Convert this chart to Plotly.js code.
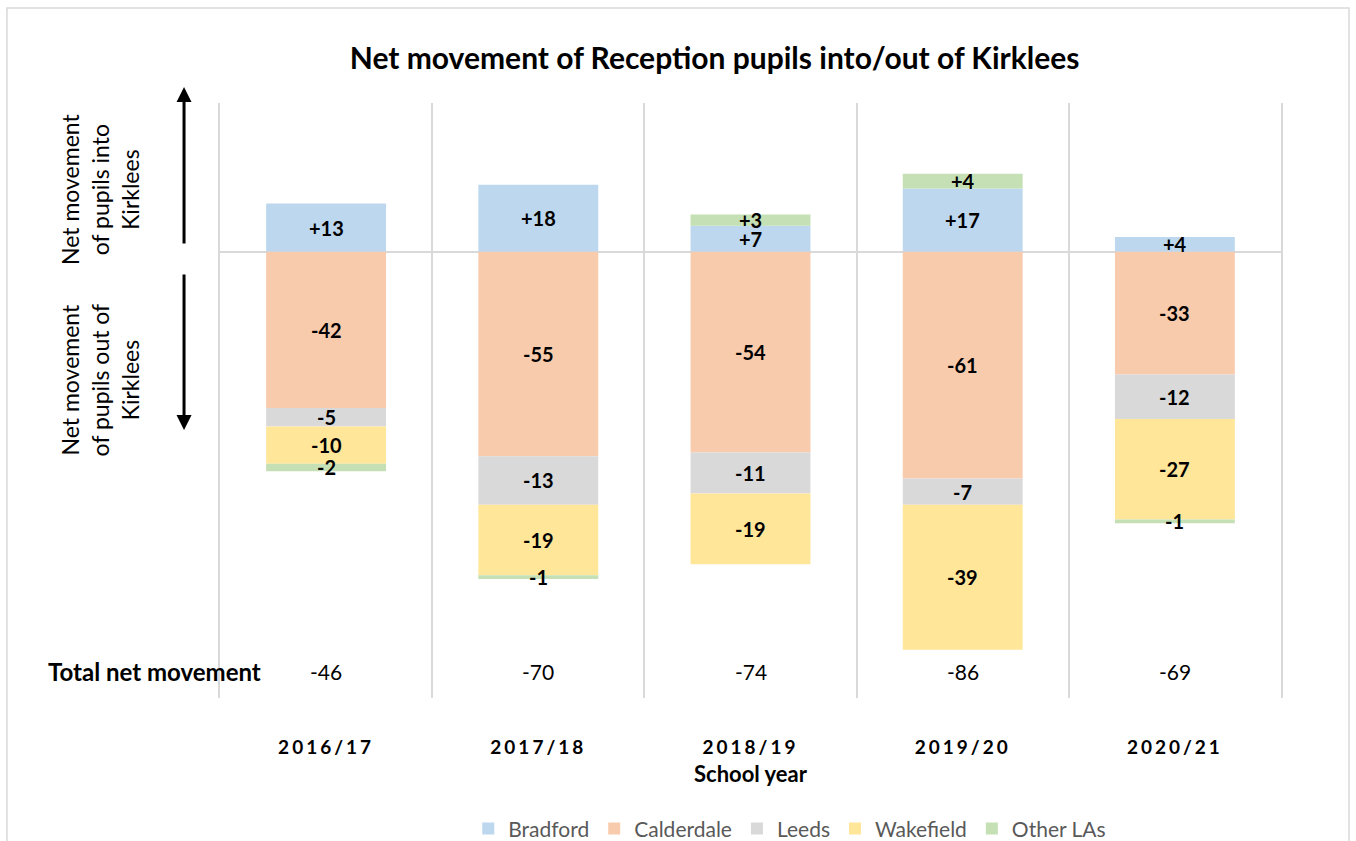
<!DOCTYPE html>
<html>
<head>
<meta charset="utf-8">
<script src="https://cdn.plot.ly/plotly-3.0.1.min.js"></script>
<style>
  body { margin: 0; background: #ffffff; }
  #chart { width: 1356px; height: 841px; }
  #chart .xtick text { letter-spacing: 3px; }
</style>
</head>
<body>
<div id="chart"></div>
<script>
const years = ['2016/17', '2017/18', '2018/19', '2019/20', '2020/21'];
const bradford = [13, 18, 7, 17, 4];
const calderdale = [-42, -55, -54, -61, -33];
const leeds = [-5, -13, -11, -7, -12];
const wakefield = [-10, -19, -19, -39, -27];
const otherLAs = [-2, -1, 3, 4, -1];

const seriesNames = ['Bradford', 'Calderdale', 'Leeds', 'Wakefield', 'Other LAs'];
const seriesColors = ['#bdd7ee', '#f8cbad', '#d9d9d9', '#ffe699', '#c5e0b4'];
const seriesValues = [bradford, calderdale, leeds, wakefield, otherLAs];

const font = 'Lato, "Open Sans", sans-serif';

function fmt(v) {
    return v > 0 ? '+' + v : String(v);
}

let traces = [];
seriesValues.forEach((vals, i) => {
    traces.push({
        type: 'bar',
        name: seriesNames[i],
        x: years,
        y: vals,
        marker: { color: seriesColors[i], line: { width: 0 } },
        textposition: 'none',
        hoverinfo: 'skip'
    });
});

// segment labels, placed at the middle of each stacked piece
let annotations = [];
years.forEach((yr, j) => {
    let posBase = 0, negBase = 0;
    seriesValues.forEach(vals => {
        const v = vals[j];
        let mid;
        if (v >= 0) { mid = posBase + v / 2; posBase += v; }
        else { mid = negBase + v / 2; negBase += v; }
        annotations.push({
            x: yr, y: mid, xref: 'x', yref: 'y',
            text: '<b>' + fmt(v) + '</b>',
            showarrow: false,
            font: { family: font, size: 20, color: '#000000' }
        });
    });
    const total = seriesValues.reduce((s, vals) => s + vals[j], 0);
    annotations.push({
        x: yr, y: 0.045, xref: 'x', yref: 'paper',
        xanchor: 'center', yanchor: 'middle',
        text: String(total),
        showarrow: false,
        font: { family: font, size: 21, color: '#000000' }
    });
});

annotations.push({
    x: -0.0613, y: 0.045, xref: 'paper', yref: 'paper',
    xanchor: 'center', yanchor: 'middle',
    text: '<b>Total net movement</b>',
    showarrow: false,
    font: { family: font, size: 24, color: '#000000' }
});

annotations.push({
    x: -0.113, y: 0.854, xref: 'paper', yref: 'paper',
    xanchor: 'center', yanchor: 'middle',
    text: 'Net movement<br>of pupils into<br>Kirklees',
    textangle: -90, showarrow: false,
    font: { family: font, size: 23, color: '#000000' }
});
annotations.push({
    x: -0.113, y: 0.534, xref: 'paper', yref: 'paper',
    xanchor: 'center', yanchor: 'middle',
    text: 'Net movement<br>of pupils out of<br>Kirklees',
    textangle: -90, showarrow: false,
    font: { family: font, size: 23, color: '#000000' }
});

// up / down arrows
annotations.push({
    x: -0.0339, y: 1.027, xref: 'paper', yref: 'paper',
    text: '', showarrow: true, ax: 0, ay: 158,
    arrowhead: 2, arrowsize: 1, arrowwidth: 3, arrowcolor: '#000000'
});
annotations.push({
    x: -0.0339, y: 0.4504, xref: 'paper', yref: 'paper',
    text: '', showarrow: true, ax: 0, ay: -157,
    arrowhead: 2, arrowsize: 1, arrowwidth: 3, arrowcolor: '#000000'
});

// x axis title as annotation so the plot area stays fixed
annotations.push({
    x: 0.5, y: -0.127, xref: 'paper', yref: 'paper',
    xanchor: 'center', yanchor: 'middle',
    text: '<b>School year</b>',
    showarrow: false,
    font: { family: font, size: 22, color: '#000000' }
});

var layout = {
    width: 1356,
    height: 841,
    barmode: 'relative',
    bargap: 0.435,
    title: {
        text: '<b>Net movement of Reception pupils into/out of Kirklees</b>',
        x: 0.527, xanchor: 'center',
        y: 0.931, yanchor: 'middle',
        font: { family: font, size: 30, color: '#000000' }
    },
    xaxis: {
        type: 'category',
        tickson: 'boundaries',
        showgrid: true,
        gridcolor: '#d9d9d9',
        gridwidth: 2,
        ticks: '',
        showline: false,
        zeroline: false,
        automargin: false,
        ticklabelstandoff: 36,
        tickfont: { family: font, size: 19, color: '#000000', weight: 'bold' },
        fixedrange: true
    },
    yaxis: {
        range: [-120, 40],
        showgrid: false,
        showticklabels: false,
        ticks: '',
        zeroline: true,
        zerolinecolor: '#d9d9d9',
        zerolinewidth: 2,
        showline: true,
        mirror: true,
        linecolor: '#d9d9d9',
        linewidth: 2,
        automargin: false,
        fixedrange: true
    },
    legend: {
        orientation: 'h',
        x: 0.537, xanchor: 'center',
        y: -0.22, yanchor: 'middle',
        font: { family: font, size: 21, color: '#595959' },
        traceorder: 'normal'
    },
    shapes: [{
        type: 'rect', xref: 'paper', yref: 'paper',
        x0: -0.2008, x1: 1.0641, y0: -0.27, y1: 1.1597,
        line: { color: '#d9d9d9', width: 1.5 },
        fillcolor: 'rgba(0,0,0,0)', layer: 'below'
    }],
    annotations: annotations,
    margin: { l: 220, r: 75, t: 103, b: 143, autoexpand: false },
    paper_bgcolor: '#ffffff',
    plot_bgcolor: '#ffffff',
    showlegend: true
};

Plotly.newPlot('chart', traces, layout, {displayModeBar: false});
</script>
</body>
</html>
